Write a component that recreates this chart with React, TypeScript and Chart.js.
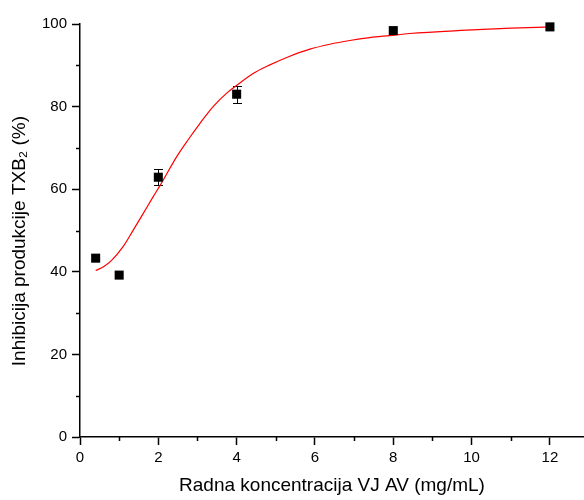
import React, { useEffect, useRef } from 'react';
import { Chart, registerables } from 'chart.js';

Chart.register(...registerables);

const concentrations = [0.4, 1, 2, 4, 8, 12];
const inhibition = [43.3, 39.2, 62.9, 83.0, 98.4, 99.3];
const errors = [0, 0, 2.0, 2.1, 0, 0];

const fitX = [0.4, 0.6, 0.8, 1.1, 1.36, 1.62, 1.87, 2.05, 2.47, 2.77, 3.06, 3.4, 3.74, 4.04, 4.42, 4.85, 5.28, 5.87, 6.38, 6.89, 7.4, 7.91, 8.42, 9.87, 11.0, 12];
const fitY = [40.3, 41.2, 42.7, 46.1, 50.1, 54.2, 58.2, 61.0, 67.9, 72.1, 75.9, 80.0, 83.2, 85.4, 88.0, 90.1, 91.9, 93.9, 95.1, 96.0, 96.7, 97.2, 97.7, 98.5, 99.0, 99.3];

const xMinorTicks = [1, 3, 5, 7, 9, 11];
const yMinorTicks = [10, 30, 50, 70, 90];

const FONT = '"Liberation Sans", Arial, sans-serif';

const extrasPlugin = {
  id: 'extras',
  beforeDatasetsDraw(chart: any) {
    const ctx = chart.ctx;
    const xs = chart.scales.x;
    const ys = chart.scales.y;
    ctx.save();
    ctx.strokeStyle = '#000';
    ctx.lineWidth = 1;
    concentrations.forEach((c, i) => {
      const e = errors[i];
      if (!e) return;
      const px = Math.round(xs.getPixelForValue(c)) + 0.5;
      const top = Math.round(ys.getPixelForValue(inhibition[i] + e)) + 0.5;
      const bot = Math.round(ys.getPixelForValue(inhibition[i] - e)) + 0.5;
      ctx.beginPath();
      ctx.moveTo(px, top);
      ctx.lineTo(px, bot);
      ctx.moveTo(px - 4.5, top);
      ctx.lineTo(px + 4.5, top);
      ctx.moveTo(px - 4.5, bot);
      ctx.lineTo(px + 4.5, bot);
      ctx.stroke();
    });
    ctx.restore();
  },
  afterDraw(chart: any) {
    const ctx = chart.ctx;
    const xs = chart.scales.x;
    const ys = chart.scales.y;
    const area = chart.chartArea;
    ctx.save();
    ctx.strokeStyle = '#000';
    ctx.lineWidth = 1.5;
    ctx.beginPath();
    xMinorTicks.forEach((v) => {
      const px = Math.round(xs.getPixelForValue(v)) + 0.5;
      ctx.moveTo(px, area.bottom);
      ctx.lineTo(px, area.bottom + 4);
    });
    yMinorTicks.forEach((v) => {
      const py = Math.round(ys.getPixelForValue(v)) + 0.5;
      ctx.moveTo(area.left, py);
      ctx.lineTo(area.left - 4, py);
    });
    ctx.stroke();
    ctx.restore();
  },
};

export default function App() {
  const ref = useRef<HTMLCanvasElement | null>(null);

  useEffect(() => {
    document.body.style.margin = '0';
    const canvas = ref.current;
    if (!canvas) return;
    const chart = new Chart(canvas, {
      type: 'scatter',
      data: {
        datasets: [
          {
            type: 'scatter',
            label: 'Data',
            data: concentrations.map((x, i) => ({ x, y: inhibition[i] })),
            pointStyle: 'rect',
            pointRadius: 6.4,
            pointBackgroundColor: '#000',
            pointBorderColor: '#000',
            pointBorderWidth: 0,
            clip: false as any,
            order: 1,
          },
          {
            type: 'line',
            label: 'Fit',
            data: fitX.map((x, i) => ({ x, y: fitY[i] })),
            borderColor: '#ff0000',
            borderWidth: 1.2,
            pointRadius: 0,
            fill: false,
            cubicInterpolationMode: 'monotone',
            clip: false as any,
            order: 2,
          },
        ] as any,
      },
      options: {
        animation: false,
        responsive: false,
        maintainAspectRatio: false,
        layout: { autoPadding: false, padding: { top: 24, right: 0, left: 0, bottom: 0 } },
        plugins: {
          legend: { display: false },
          tooltip: { enabled: false },
        },
        scales: {
          x: {
            type: 'linear',
            min: 0,
            max: 12.87,
            border: { display: true, color: '#000', width: 1.5 },
            grid: {
              drawOnChartArea: false,
              tickLength: 8,
              tickWidth: 1.5,
              tickColor: (c: any) => (c.tick && c.tick.value % 2 === 0 ? '#000' : 'rgba(0,0,0,0)'),
            },
            ticks: {
              stepSize: 1,
              includeBounds: false,
              autoSkip: false,
              maxRotation: 0,
              color: '#000',
              padding: 4,
              font: { family: FONT, size: 15 },
              callback: (v: any) => (v % 2 === 0 ? String(v) : ''),
            },
            title: {
              display: true,
              text: 'Radna koncentracija VJ AV (mg/mL)',
              color: '#000',
              font: { family: FONT, size: 19 },
              padding: { top: 0, bottom: 2.5 },
            },
            afterFit: (s: any) => {
              s.height = 63;
              s.paddingLeft = 0;
              s.paddingRight = 0;
            },
          },
          y: {
            type: 'linear',
            min: 0,
            max: 100,
            border: { display: true, color: '#000', width: 1.5 },
            grid: {
              drawOnChartArea: false,
              tickLength: 8,
              tickWidth: 1.5,
              tickColor: (c: any) => (c.tick && c.tick.value % 20 === 0 ? '#000' : 'rgba(0,0,0,0)'),
            },
            ticks: {
              stepSize: 10,
              includeBounds: false,
              autoSkip: false,
              color: '#000',
              padding: 5,
              font: { family: FONT, size: 15 },
              callback: (v: any) => (v % 20 === 0 ? String(v) : ''),
            },
            title: {
              display: true,
              text: 'Inhibicija produkcije TXB₂ (%)    ',
              color: '#000',
              font: { family: FONT, size: 19 },
              padding: { top: 8.6, bottom: 0 },
            },
            afterFit: (s: any) => {
              s.width = 80;
              s.paddingTop = 0;
              s.paddingBottom = 0;
            },
          },
        },
      },
      plugins: [extrasPlugin],
    });
    return () => chart.destroy();
  }, []);

  return <canvas ref={ref} width={584} height={500} style={{ display: 'block' }} />;
}
